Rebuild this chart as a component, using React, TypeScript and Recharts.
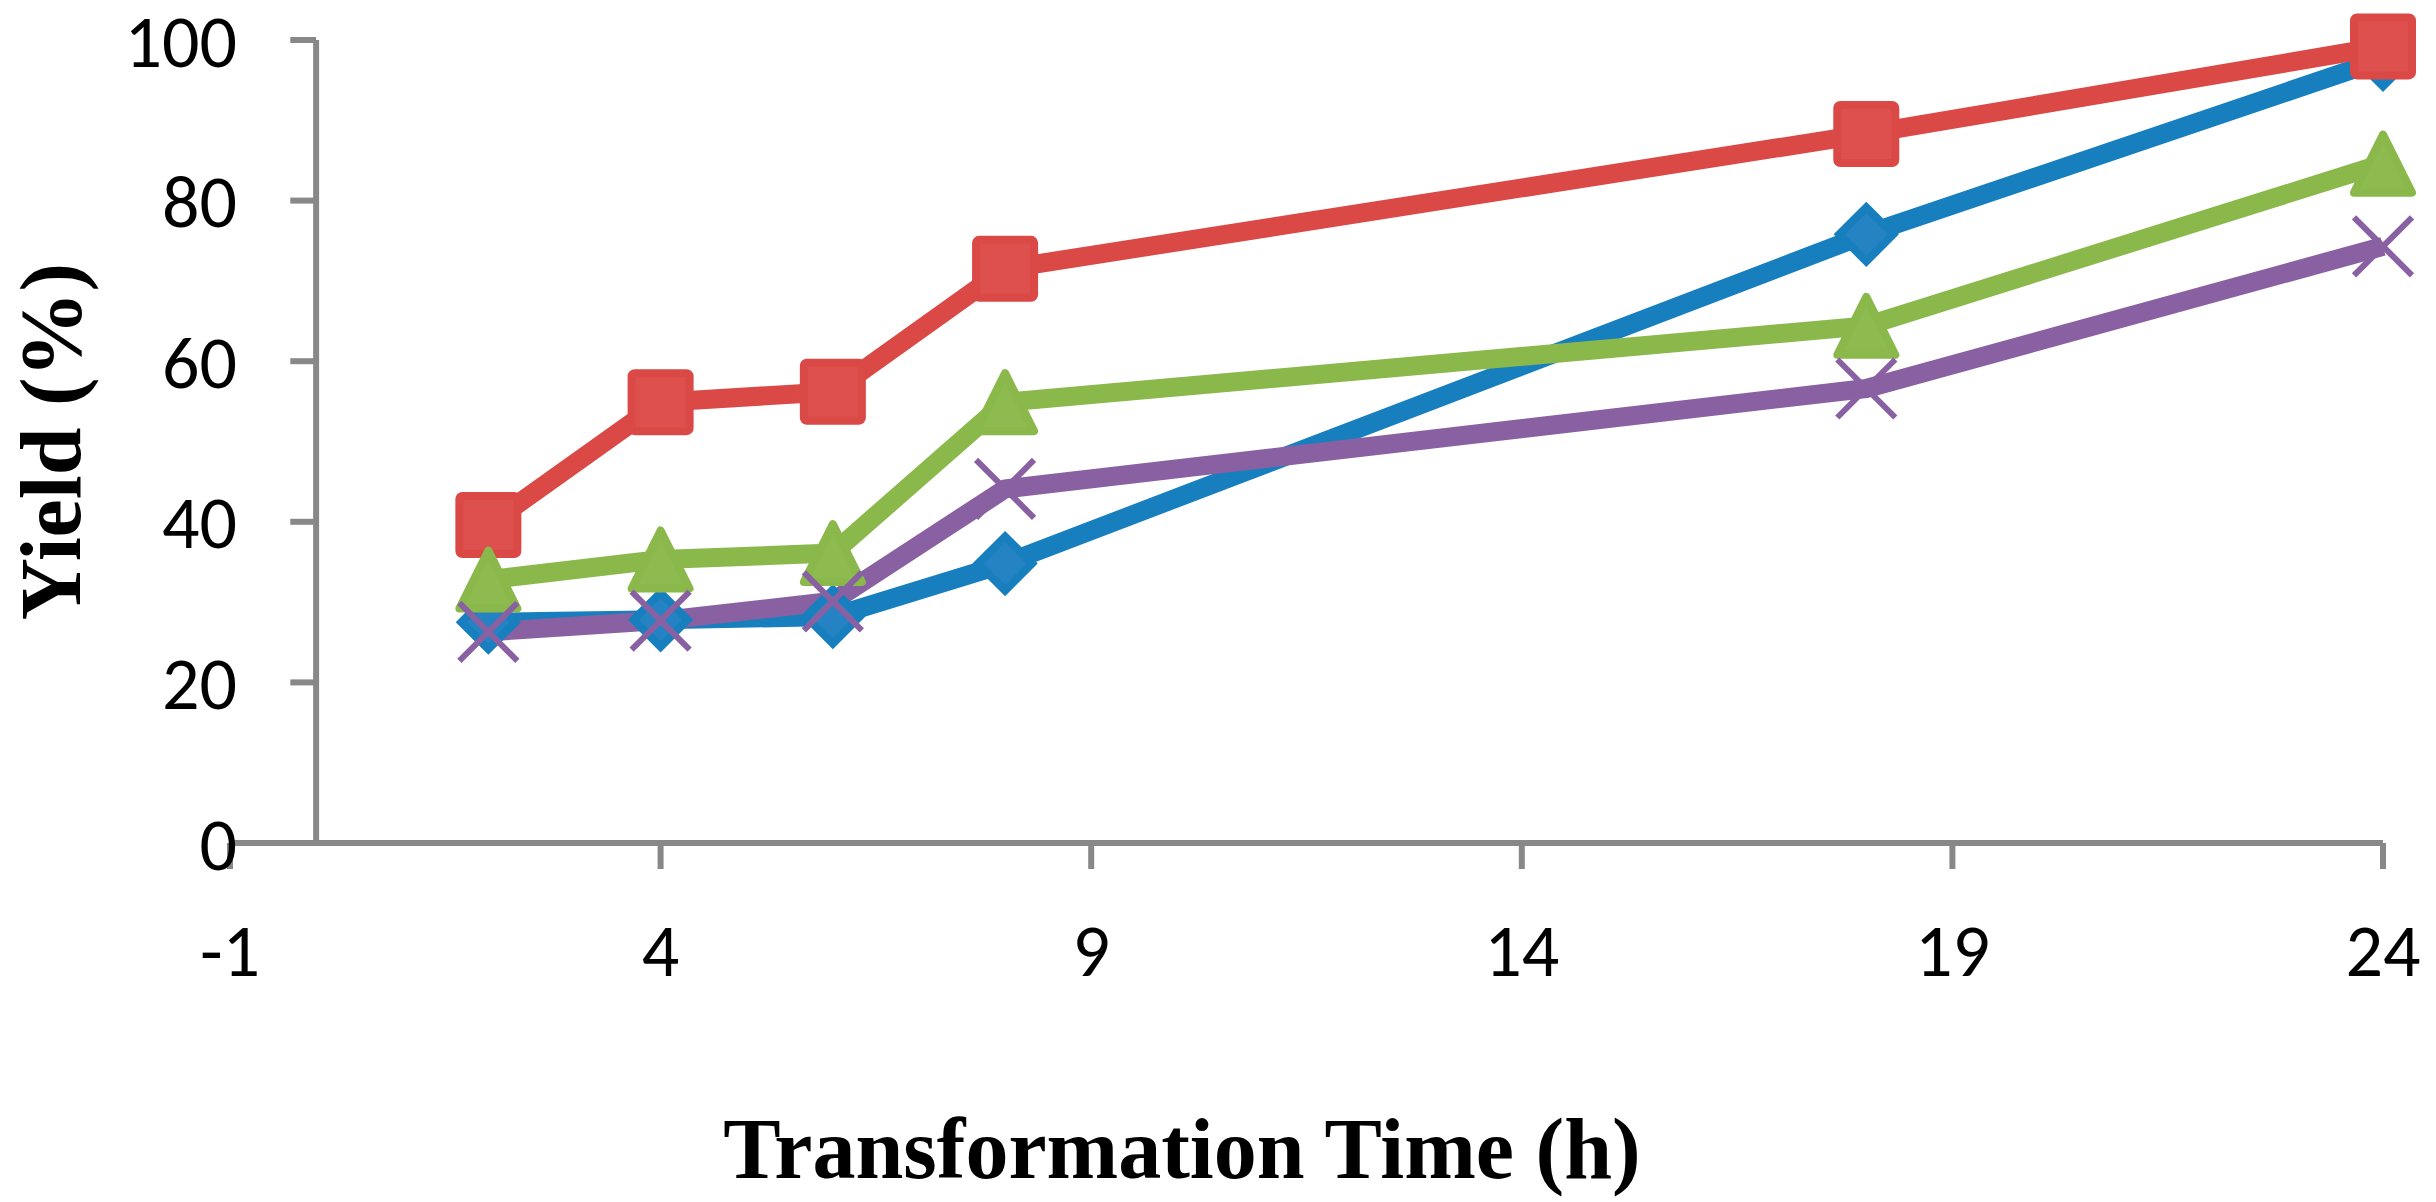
import { Line, LineChart, ReferenceLine, XAxis, YAxis } from "recharts";

// transformation time (h)
const hours = [2, 4, 6, 8, 18, 24];

// yield (%) for each series
const blueYield = [27.5, 27.8, 28.2, 34.8, 75.8, 97.6];
const redYield = [39.6, 54.9, 56.2, 71.5, 88.3, 99.2];
const greenYield = [32.8, 35.3, 36.1, 54.9, 64.4, 84.6];
const purpleYield = [26.3, 27.7, 30.1, 44.1, 56.6, 74.3];

const xTicks = [-1, 4, 9, 14, 19, 24];
const yTicks = [0, 20, 40, 60, 80, 100];

const data = hours.map((h, i) => ({
  x: h,
  blue: blueYield[i],
  red: redYield[i],
  green: greenYield[i],
  purple: purpleYield[i],
}));

const AXIS = "#888888";
const SANS = "Carlito, Lato, 'Open Sans', sans-serif";
const SERIF = "'Times New Roman', 'Liberation Serif', serif";

const SquareDot = (p: any) => (
  <rect
    key={`sq-${p.index}`}
    x={p.cx - 29}
    y={p.cy - 29}
    width={58}
    height={58}
    rx={3}
    fill="#DD504E"
    stroke="#DA4946"
    strokeWidth={8}
  />
);

const DiamondDot = (p: any) => (
  <polygon
    key={`dm-${p.index}`}
    points={`${p.cx},${p.cy - 27} ${p.cx + 27},${p.cy} ${p.cx},${p.cy + 27} ${p.cx - 27},${p.cy}`}
    fill="#2583C3"
    stroke="#187FBF"
    strokeWidth={8}
  />
);

const TriangleDot = (p: any) => (
  <polygon
    key={`tr-${p.index}`}
    points={`${p.cx},${p.cy - 29} ${p.cx + 29},${p.cy + 29} ${p.cx - 29},${p.cy + 29}`}
    fill="#8DBB4F"
    stroke="#8AB84B"
    strokeWidth={8}
    strokeLinejoin="round"
  />
);

const CrossDot = (p: any) => (
  <g key={`x-${p.index}`} stroke="#8960A2" strokeWidth={6}>
    <line x1={p.cx - 29} y1={p.cy - 29} x2={p.cx + 29} y2={p.cy + 29} />
    <line x1={p.cx - 29} y1={p.cy + 29} x2={p.cx + 29} y2={p.cy - 29} />
  </g>
);

const YTick = (p: any) => (
  <text
    x={p.x + 7}
    y={p.y}
    dy="0.36em"
    textAnchor="end"
    fontSize={74}
    fontFamily={SANS}
    fill="#000"
  >
    {p.payload.value}
  </text>
);

// x title sits left of the plot centre, as in the original figure
const XTitle = () => (
  <text
    x={1174}
    y={1170}
    textAnchor="middle"
    fontSize={86}
    fontWeight="bold"
    fontFamily={SERIF}
    fill="#000"
  >
    Transformation Time (h)
  </text>
);

export default function App() {
  return (
    <LineChart
      width={2420}
      height={1194}
      data={data}
      margin={{ top: 32, right: 45, left: 0, bottom: 0 }}
      style={{ overflow: "visible" }}
    >
      <XAxis
        type="number"
        dataKey="x"
        domain={[-1, 24]}
        ticks={xTicks}
        interval={0}
        height={359}
        stroke={AXIS}
        axisLine={{ stroke: AXIS, strokeWidth: 6 }}
        tickLine={{ stroke: AXIS, strokeWidth: 6 }}
        tickSize={26}
        tickMargin={54}
        tick={{ fill: "#000", fontSize: 74, fontFamily: SANS }}
        label={{ content: <XTitle /> }}
      />
      <YAxis
        type="number"
        domain={[0, 100]}
        ticks={yTicks}
        interval={0}
        width={222}
        axisLine={false}
        tickLine={false}
        tickSize={0}
        tickMargin={0}
        tick={<YTick />}
        label={{
          value: "Yield (%)",
          angle: -90,
          position: "insideLeft",
          offset: 41,
          textAnchor: "middle",
          fill: "#000",
          fontSize: 86,
          fontWeight: "bold",
          fontFamily: SERIF,
        }}
      />
      <ReferenceLine x={0} stroke={AXIS} strokeWidth={6} />
      {yTicks.map((v) => (
        <ReferenceLine
          key={`yt-${v}`}
          segment={[
            { x: -0.3, y: v },
            { x: 0, y: v },
          ]}
          stroke={AXIS}
          strokeWidth={6}
        />
      ))}
      <Line
        dataKey="blue"
        stroke="#187FBF"
        strokeWidth={19}
        strokeLinejoin="round"
        dot={DiamondDot}
        activeDot={false}
        isAnimationActive={false}
      />
      <Line
        dataKey="red"
        stroke="#DA4946"
        strokeWidth={19}
        strokeLinejoin="round"
        dot={SquareDot}
        activeDot={false}
        isAnimationActive={false}
      />
      <Line
        dataKey="green"
        stroke="#8AB84B"
        strokeWidth={19}
        strokeLinejoin="round"
        dot={TriangleDot}
        activeDot={false}
        isAnimationActive={false}
      />
      <Line
        dataKey="purple"
        stroke="#8960A2"
        strokeWidth={19}
        strokeLinejoin="round"
        dot={CrossDot}
        activeDot={false}
        isAnimationActive={false}
      />
    </LineChart>
  );
}
